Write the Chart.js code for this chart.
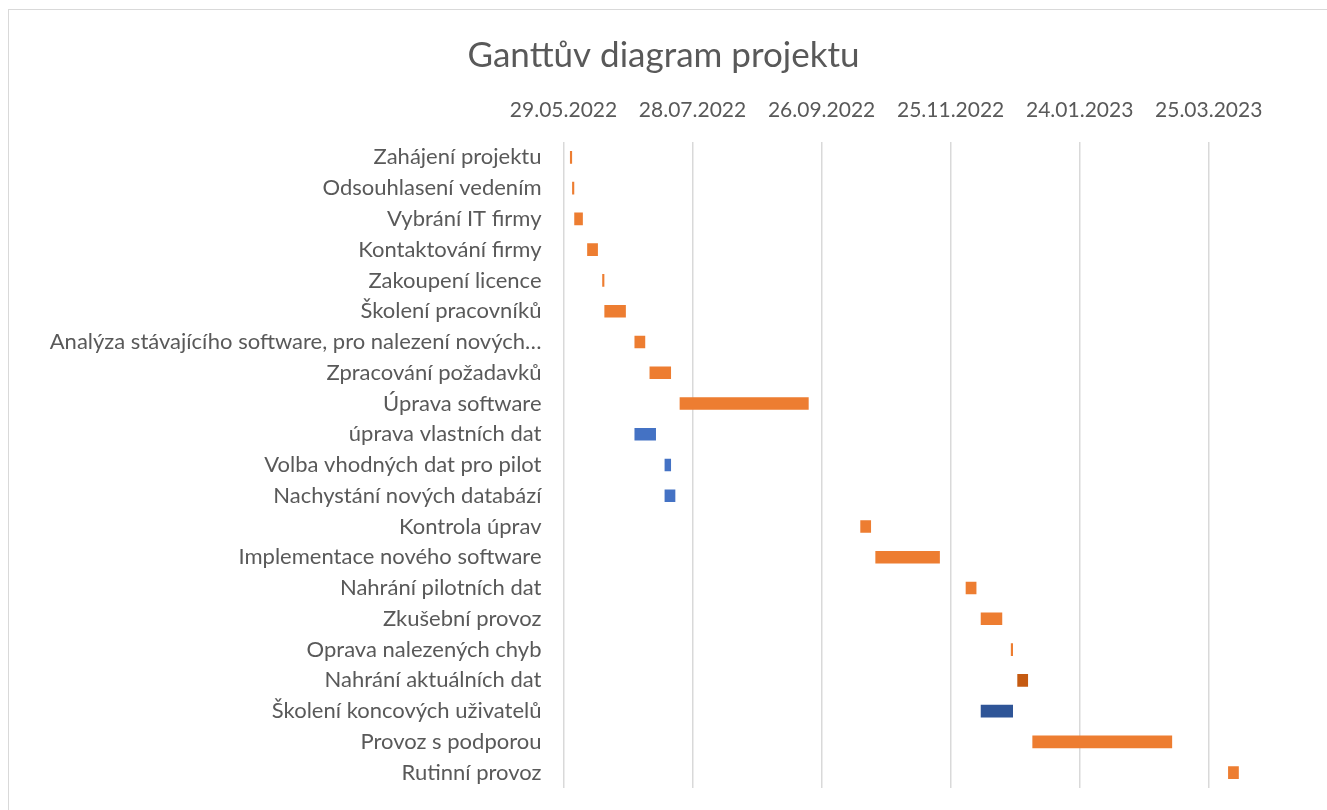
<!DOCTYPE html>
<html>
<head>
<meta charset="utf-8">
<script src="https://cdn.jsdelivr.net/npm/chart.js@4"></script>
<style>
  html, body { margin: 0; padding: 0; background: #fff; }
  #wrap { position: relative; width: 1327px; height: 810px; overflow: hidden; }
  #frame { position: absolute; left: 8px; top: 9px; width: 1400px; height: 900px;
           border-top: 1.5px solid #d9d9d9; border-left: 1.5px solid #d9d9d9; }
  #cv { position: absolute; left: 0; top: 0; }
</style>
</head>
<body>
<div id="wrap">
  <div id="frame"></div>
  <canvas id="cv" width="1327" height="810"></canvas>
</div>
<script>
const tasks = [
  "Zahájení projektu",
  "Odsouhlasení vedením",
  "Vybrání IT firmy",
  "Kontaktování firmy",
  "Zakoupení licence",
  "Školení pracovníků",
  "Analýza stávajícího software, pro nalezení nových…",
  "Zpracování požadavků",
  "Úprava software",
  "úprava vlastních dat",
  "Volba vhodných dat pro pilot",
  "Nachystání nových databází",
  "Kontrola úprav",
  "Implementace nového software",
  "Nahrání pilotních dat",
  "Zkušební provoz",
  "Oprava nalezených chyb",
  "Nahrání aktuálních dat",
  "Školení koncových uživatelů",
  "Provoz s podporou",
  "Rutinní provoz"
];
const startDates = [
  "2022-06-01", "2022-06-02", "2022-06-03", "2022-06-09", "2022-06-16",
  "2022-06-17", "2022-07-01", "2022-07-08", "2022-07-22", "2022-07-01",
  "2022-07-15", "2022-07-15", "2022-10-14", "2022-10-21", "2022-12-02",
  "2022-12-09", "2022-12-23", "2022-12-26", "2022-12-09", "2023-01-02",
  "2023-04-03"
];
const durations = [1, 1, 4, 5, 1, 10, 5, 10, 60, 10, 3, 5, 5, 30, 5, 10, 1, 5, 15, 65, 5];
const barColors = [
  "#ED7D31", "#ED7D31", "#ED7D31", "#ED7D31", "#ED7D31", "#ED7D31", "#ED7D31",
  "#ED7D31", "#ED7D31", "#4472C4", "#4472C4", "#4472C4", "#ED7D31", "#ED7D31",
  "#ED7D31", "#ED7D31", "#ED7D31", "#C55A11", "#2F5597", "#ED7D31", "#ED7D31"
];
const axisStart = "2022-05-29";
const axisEndDays = 355;
const tickStepDays = 60;

const DAY = 86400000;
const base = Date.parse(axisStart + "T00:00:00Z");
const toDays = s => (Date.parse(s + "T00:00:00Z") - base) / DAY;
const spans = startDates.map((s, i) => [toDays(s), toDays(s) + durations[i]]);

function fmt(d) {
  const dt = new Date(base + d * DAY);
  const p = n => String(n).padStart(2, "0");
  return p(dt.getUTCDate()) + "." + p(dt.getUTCMonth() + 1) + "." + dt.getUTCFullYear();
}

const FONT = "Lato, 'Open Sans', sans-serif";
const GREY = "#595959";

new Chart(document.getElementById("cv"), {
  type: "bar",
  data: {
    labels: tasks,
    datasets: [{
      data: spans,
      backgroundColor: barColors,
      borderWidth: 0,
      barPercentage: 0.41,
      categoryPercentage: 1
    }]
  },
  options: {
    indexAxis: "y",
    responsive: false,
    animation: false,
    layout: { padding: { left: 0, right: 0, top: 0, bottom: 22 } },
    plugins: {
      legend: { display: false },
      tooltip: { enabled: false },
      title: {
        display: true,
        text: "Ganttův diagram projektu",
        color: GREY,
        font: { family: FONT, size: 35, weight: "normal" },
        padding: { top: 35, bottom: 6 }
      }
    },
    scales: {
      x: {
        position: "top",
        type: "linear",
        min: 0,
        max: axisEndDays,
        afterFit: s => { s.height = 59; },
        border: { display: false },
        grid: { color: "#d9d9d9", lineWidth: 1.5, drawTicks: false },
        ticks: {
          stepSize: tickStepDays,
          includeBounds: false,
          maxRotation: 0,
          padding: 19,
          color: GREY,
          font: { family: FONT, size: 21 },
          callback: v => fmt(v)
        }
      },
      y: {
        afterFit: s => { s.width = 563.5; s.paddingTop = 0; s.paddingBottom = 0; },
        border: { display: false },
        grid: { display: false },
        ticks: {
          padding: 14,
          color: GREY,
          font: { family: FONT, size: 22 },
          autoSkip: false
        }
      }
    }
  }
});
</script>
</body>
</html>
